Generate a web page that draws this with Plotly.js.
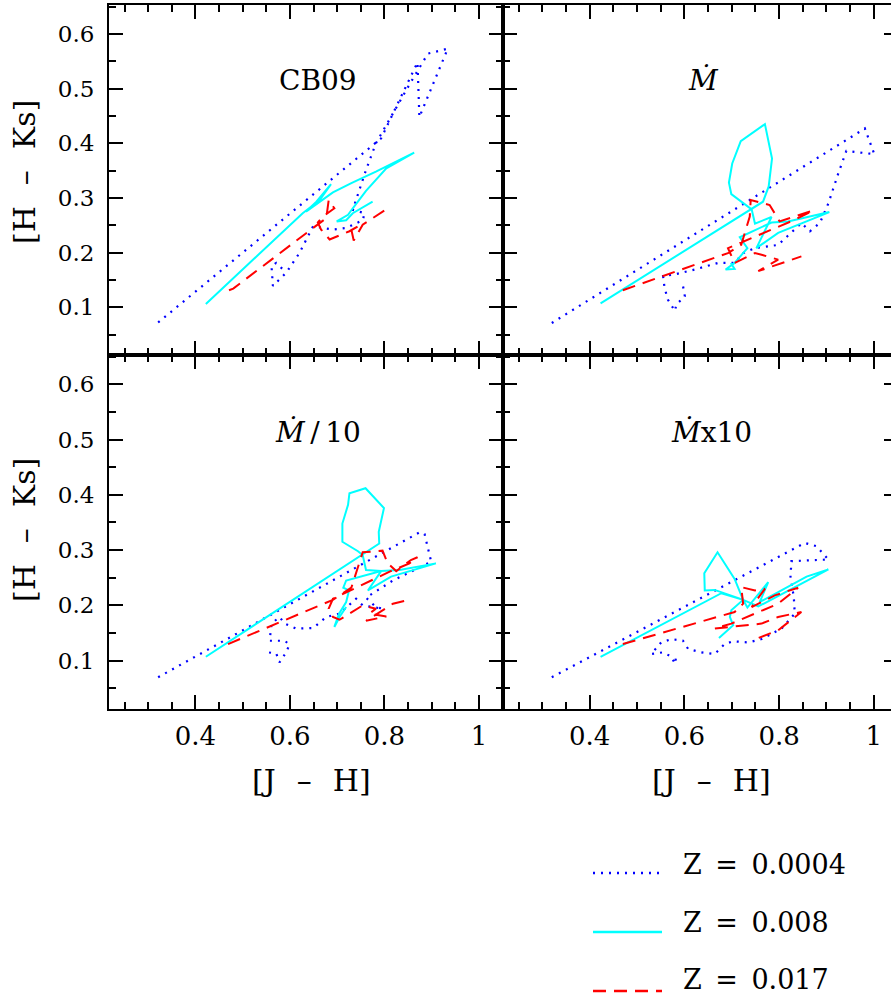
<!DOCTYPE html>
<html>
<head>
<meta charset="utf-8">
<script src="https://cdn.plot.ly/plotly-3.0.1.min.js"></script>
<style>
html,body{margin:0;padding:0;overflow:hidden;background:#fff;}
#chart{width:898px;height:996px;}
</style>
</head>
<body>
<div id="chart"></div>
<script>
// ---- data: [J-H] (x) and [H-Ks] (y) tracks ----
// Panel "CB09"
const cb09_z0004_x = [0.321,0.793,0.870,0.874,0.934,0.892,0.856,0.818,0.782,0.761,0.744,0.733,0.758,0.754,0.719,0.691,0.649,0.620,0.592,0.564,0.561,0.571,0.589];
const cb09_z0004_y = [0.072,0.409,0.548,0.448,0.573,0.564,0.512,0.454,0.400,0.351,0.309,0.278,0.272,0.259,0.245,0.242,0.248,0.199,0.163,0.139,0.175,0.181,0.166];
const cb09_z008_x  = [0.422,0.627,0.663,0.687,0.656,0.634,0.691,0.730,0.782,0.863,0.804,0.761,0.733,0.723,0.699,0.719,0.733,0.775];
const cb09_z008_y  = [0.106,0.272,0.296,0.325,0.293,0.275,0.310,0.327,0.348,0.383,0.354,0.313,0.281,0.269,0.257,0.259,0.272,0.293];
const cb09_z017_x  = [0.471,0.480,0.649,0.677,0.682,0.694,0.670,0.659,0.666,0.684,0.726,0.744,0.730,0.735,0.754,0.811];
const cb09_z017_y  = [0.131,0.134,0.245,0.263,0.296,0.281,0.266,0.255,0.242,0.224,0.239,0.248,0.242,0.222,0.251,0.283];

// Panel "Mdot"
const mdot_z0004_x = [0.320,0.981,1.001,0.942,0.925,0.904,0.886,0.865,0.847,0.798,0.749,0.724,0.706,0.671,0.622,0.580,0.555,0.558,0.565,0.580,0.583,0.601,0.597];
const mdot_z0004_y = [0.071,0.427,0.380,0.386,0.345,0.290,0.254,0.239,0.254,0.214,0.208,0.199,0.181,0.181,0.169,0.160,0.157,0.136,0.114,0.093,0.105,0.120,0.139];
const mdot_z008_x  = [0.423,0.766,0.778,0.785,0.770,0.719,0.701,0.694,0.699,0.742,0.749,0.784,0.752,0.798,0.906,0.819,0.784,0.717,0.733,0.706,0.687,0.706,0.698];
const mdot_z008_y  = [0.107,0.293,0.321,0.372,0.435,0.404,0.363,0.328,0.307,0.279,0.253,0.265,0.208,0.236,0.274,0.257,0.255,0.228,0.208,0.181,0.169,0.170,0.181];
const mdot_z017_x  = [0.470,0.692,0.720,0.738,0.740,0.780,0.801,0.872,0.833,0.784,0.735,0.692,0.706,0.749,0.763,0.798,0.756,0.819,0.847];
const mdot_z017_y  = [0.131,0.199,0.214,0.266,0.296,0.287,0.257,0.277,0.260,0.242,0.224,0.208,0.181,0.199,0.196,0.187,0.166,0.184,0.193];

// Panel "Mdot/10"
const md10_z0004_x = [0.321,0.874,0.885,0.899,0.818,0.761,0.782,0.796,0.754,0.740,0.705,0.677,0.649,0.613,0.589,0.578,0.561,0.557,0.589,0.599,0.592,0.578,0.571,0.554];
const md10_z0004_y = [0.070,0.332,0.329,0.279,0.245,0.214,0.197,0.194,0.200,0.212,0.185,0.179,0.159,0.158,0.167,0.179,0.167,0.136,0.136,0.129,0.115,0.097,0.113,0.115];
const md10_z008_x  = [0.422,0.754,0.789,0.788,0.799,0.760,0.726,0.723,0.711,0.711,0.744,0.754,0.761,0.793,0.765,0.814,0.909,0.832,0.793,0.719,0.713,0.725,0.719,0.704,0.694,0.705,0.719];
const md10_z008_y  = [0.107,0.291,0.312,0.333,0.376,0.412,0.403,0.382,0.348,0.315,0.298,0.291,0.264,0.262,0.227,0.252,0.276,0.264,0.262,0.245,0.232,0.227,0.206,0.185,0.161,0.179,0.197];
const md10_z017_x  = [0.469,0.691,0.730,0.747,0.754,0.796,0.807,0.825,0.856,0.870,0.853,0.811,0.733,0.691,0.682,0.691,0.705,0.754,0.782,0.768,0.804,0.761,0.818,0.853];
const md10_z017_y  = [0.130,0.210,0.232,0.276,0.296,0.299,0.276,0.262,0.282,0.287,0.276,0.261,0.230,0.212,0.194,0.179,0.174,0.200,0.194,0.185,0.180,0.172,0.203,0.210];

// Panel "Mdot x10"
const mdx10_z0004_x = [0.320,0.854,0.879,0.904,0.826,0.824,0.831,0.833,0.805,0.763,0.735,0.703,0.685,0.664,0.636,0.608,0.597,0.573,0.551,0.530,0.555,0.573,0.580,0.583];
const mdx10_z0004_y = [0.070,0.313,0.307,0.283,0.280,0.252,0.215,0.185,0.158,0.139,0.133,0.135,0.130,0.112,0.115,0.121,0.136,0.139,0.133,0.112,0.115,0.107,0.094,0.109];
const mdx10_z008_x  = [0.423,0.678,0.724,0.706,0.670,0.642,0.643,0.664,0.724,0.733,0.777,0.759,0.798,0.858,0.904,0.756,0.724,0.699,0.696,0.703,0.673];
const mdx10_z008_y  = [0.107,0.222,0.210,0.248,0.296,0.258,0.227,0.228,0.210,0.196,0.242,0.206,0.224,0.252,0.265,0.198,0.210,0.191,0.179,0.164,0.141];
const mdx10_z017_x  = [0.470,0.706,0.724,0.720,0.749,0.770,0.742,0.791,0.840,0.798,0.699,0.664,0.763,0.798,0.847,0.798,0.742];
const mdx10_z017_y  = [0.130,0.188,0.203,0.233,0.227,0.230,0.197,0.218,0.232,0.203,0.167,0.158,0.167,0.179,0.188,0.155,0.136];

const panelLabels = ["CB09", "<i>Ṁ</i>", "<i>Ṁ</i>\u2009/\u200910", "<i>Ṁ</i>x10"];
const seriesNames = ["Z = 0.0004", "Z = 0.008", "Z = 0.017"];
const xTitle = "[J\u2002\u2009–\u2002\u2009H]";
const yTitle = "[H\u2002\u2009–\u2002\u2009Ks]";

// ---- styling ----
const styles = [
  {color: "#0000ff", width: 2.2, dash: "2px,6px"},
  {color: "#00ffff", width: 2, dash: "solid"},
  {color: "#ff0000", width: 2, dash: "13px,8px"}
];

const panels = [
  {sx: [cb09_z0004_x, cb09_z008_x, cb09_z017_x], sy: [cb09_z0004_y, cb09_z008_y, cb09_z017_y], xa: "x", ya: "y"},
  {sx: [mdot_z0004_x, mdot_z008_x, mdot_z017_x], sy: [mdot_z0004_y, mdot_z008_y, mdot_z017_y], xa: "x2", ya: "y2"},
  {sx: [md10_z0004_x, md10_z008_x, md10_z017_x], sy: [md10_z0004_y, md10_z008_y, md10_z017_y], xa: "x3", ya: "y3"},
  {sx: [mdx10_z0004_x, mdx10_z008_x, mdx10_z017_x], sy: [mdx10_z0004_y, mdx10_z008_y, mdx10_z017_y], xa: "x4", ya: "y4"}
];

const traces = [];
panels.forEach(p => {
  for (let s = 0; s < 3; s++) {
    traces.push({
      type: "scatter", mode: "lines",
      x: p.sx[s], y: p.sy[s], xaxis: p.xa, yaxis: p.ya,
      name: seriesNames[s], showlegend: false,
      line: {color: styles[s].color, width: styles[s].width, dash: styles[s].dash}
    });
  }
});

const W = 898, H = 996;
const colL = [109 / W, 503 / W], colR = [503 / W, 1];
const rowT = [1 - 355 / H, 1 - 5 / H], rowB = [1 - 709 / H, 1 - 355 / H];
const XR = [0.217, 1.051], YR = [0.0125, 0.653];

function xax(domain, anchor, labels) {
  return {
    domain: domain, anchor: anchor, range: XR, autorange: false,
    showline: true, linecolor: "#000", linewidth: 2, mirror: "ticks",
    ticks: "inside", ticklen: 14, tickwidth: 2, tickcolor: "#000",
    tick0: 0, dtick: 0.2, showgrid: false, zeroline: false,
    showticklabels: labels, ticklabelstandoff: 3,
    tickfont: {family: "DejaVu Serif", size: 26, color: "#000"},
    minor: {dtick: 0.05, ticks: "inside", ticklen: 7, tickwidth: 2, tickcolor: "#000", showgrid: false}
  };
}
function yax(domain, anchor, labels) {
  return {
    domain: domain, anchor: anchor, range: YR, autorange: false,
    showline: true, linecolor: "#000", linewidth: 2, mirror: "ticks",
    ticks: "inside", ticklen: 14, tickwidth: 2, tickcolor: "#000",
    tick0: 0, dtick: 0.1, showgrid: false, zeroline: false,
    showticklabels: labels, ticklabelstandoff: 8,
    tickfont: {family: "DejaVu Serif", size: 23, color: "#000"},
    minor: {dtick: 0.05, ticks: "inside", ticklen: 7, tickwidth: 2, tickcolor: "#000", showgrid: false}
  };
}

const labelPos = [[0.660, 0.515], [0.640, 0.515], [0.660, 0.513], [0.658, 0.513]];
const annotations = [];
panels.forEach((p, i) => {
  annotations.push({
    xref: p.xa, yref: p.ya, x: labelPos[i][0], y: labelPos[i][1],
    text: panelLabels[i], showarrow: false, xanchor: "center", yanchor: "middle",
    font: {family: "DejaVu Serif", size: 28, color: "#000"}
  });
});
[311, 711].forEach(px => annotations.push({
  xref: "paper", yref: "paper", x: px / W, y: 1 - 780 / H, text: xTitle, showarrow: false,
  xanchor: "center", yanchor: "middle", font: {family: "DejaVu Serif", size: 30, color: "#000"}
}));
[172, 530].forEach(py => annotations.push({
  xref: "paper", yref: "paper", x: 24 / W, y: 1 - py / H, text: yTitle, showarrow: false,
  textangle: -90, xanchor: "center", yanchor: "middle", font: {family: "DejaVu Serif", size: 30, color: "#000"}
}));

// legend drawn manually (long line samples as in the reference)
const legY = [873, 932, 991];
const legTextY = [864, 922, 979];
const shapes = [];
for (let s = 0; s < 3; s++) {
  shapes.push({
    type: "line", xref: "paper", yref: "paper",
    x0: 593 / W, x1: 662 / W, y0: 1 - legY[s] / H, y1: 1 - legY[s] / H,
    line: {color: styles[s].color, width: 2.5, dash: styles[s].dash}
  });
  annotations.push({
    xref: "paper", yref: "paper", x: 681 / W, y: 1 - legTextY[s] / H,
    text: seriesNames[s].replace(/ = /, "\u2002=\u2002"),
    showarrow: false, xanchor: "left", yanchor: "middle",
    font: {family: "DejaVu Serif", size: 27, color: "#000"}
  });
}

const layout = {
  width: W, height: H,
  margin: {l: 0, r: 0, t: 0, b: 0},
  paper_bgcolor: "#fff", plot_bgcolor: "#fff",
  showlegend: false,
  xaxis: xax(colL, "y", false),
  xaxis2: xax(colR, "y2", false),
  xaxis3: xax(colL, "y3", true),
  xaxis4: xax(colR, "y4", true),
  yaxis: yax(rowT, "x", true),
  yaxis2: yax(rowT, "x2", false),
  yaxis3: yax(rowB, "x3", true),
  yaxis4: yax(rowB, "x4", false),
  annotations: annotations,
  shapes: shapes
};

Plotly.newPlot("chart", traces, layout, {displayModeBar: false, staticPlot: true});
</script>
</body>
</html>
